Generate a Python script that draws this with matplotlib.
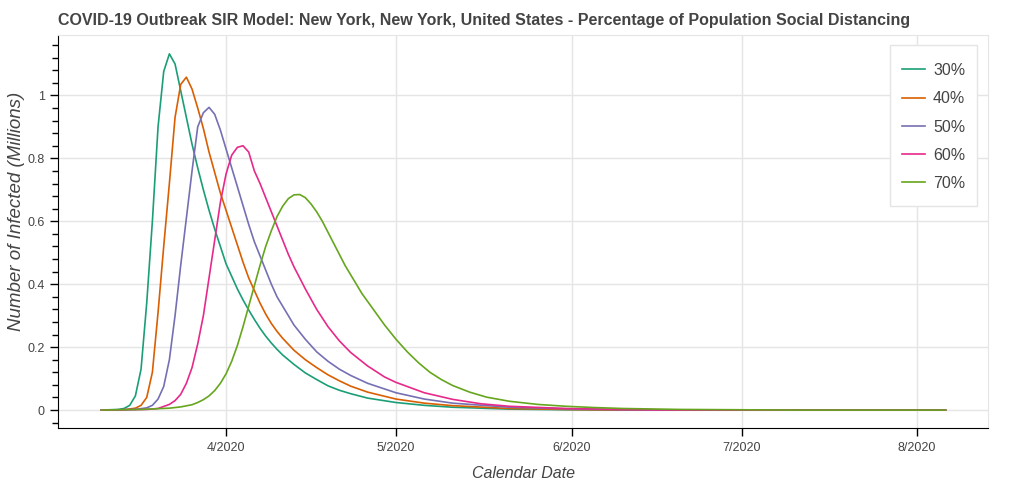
import numpy as np
import matplotlib.pyplot as plt
import matplotlib.dates as mdates
from matplotlib.patches import Rectangle
from matplotlib.ticker import MultipleLocator, FuncFormatter

plt.rcParams['font.family'] = ['Liberation Sans', 'DejaVu Sans']

title = ("COVID-19 Outbreak SIR Model: New York, New York, United States"
         " - Percentage of Population Social Distancing")
labels = ['30%', '40%', '50%', '60%', '70%']
colors = ['#1b9e77', '#d95f02', '#7570b3', '#e7298a', '#66a61e']

# days counted from 2020-04-01, infected in millions
days_30 = [-22, -19, -18, -17, -16, -15, -14, -13, -12, -11, -10, -9, -8, -7, -6, -5, -4,
           -3, -2, -1, 0, 1, 2, 3, 4, 5, 6, 7, 8, 9, 10, 12, 14, 16, 18, 20, 22, 25, 30,
           35, 40, 50, 60, 70, 127]
inf_30 = [0, 0.002, 0.005, 0.015, 0.045, 0.13, 0.34, 0.60, 0.90, 1.076, 1.132, 1.10, 1.015,
          0.93, 0.845, 0.77, 0.70, 0.635, 0.575, 0.52, 0.465, 0.425, 0.385, 0.35, 0.318,
          0.288, 0.26, 0.235, 0.213, 0.193, 0.175, 0.145, 0.118, 0.097, 0.077, 0.063, 0.052,
          0.038, 0.024, 0.015, 0.009, 0.003, 0.001, 0, 0]

days_40 = [-22, -18, -16, -15, -14, -13, -12, -11, -10, -9, -8, -7, -6, -5, -4, -3, -2, -1,
           0, 1, 2, 3, 4, 5, 6, 7, 8, 9, 10, 12, 14, 16, 18, 20, 22, 25, 30, 35, 40, 50, 60,
           70, 127]
inf_40 = [0, 0.001, 0.006, 0.015, 0.04, 0.12, 0.31, 0.52, 0.72, 0.93, 1.035, 1.058, 1.02,
          0.96, 0.895, 0.82, 0.755, 0.69, 0.635, 0.58, 0.525, 0.47, 0.42, 0.38, 0.34, 0.305,
          0.275, 0.25, 0.228, 0.19, 0.16, 0.135, 0.112, 0.093, 0.076, 0.057, 0.035, 0.022,
          0.014, 0.005, 0.002, 0, 0]

days_50 = [-22, -16, -14, -13, -12, -11, -10, -9, -8, -7, -6, -5, -4, -3, -2, -1, 0, 1, 2,
           3, 4, 5, 6, 7, 8, 9, 10, 12, 14, 16, 18, 20, 22, 25, 30, 35, 40, 50, 60, 70, 80,
           127]
inf_50 = [0, 0.002, 0.007, 0.015, 0.035, 0.075, 0.16, 0.30, 0.46, 0.61, 0.76, 0.90, 0.945,
          0.962, 0.94, 0.89, 0.83, 0.77, 0.71, 0.65, 0.59, 0.535, 0.49, 0.445, 0.40, 0.36,
          0.33, 0.27, 0.225, 0.185, 0.155, 0.13, 0.11, 0.085, 0.055, 0.035, 0.022, 0.009,
          0.004, 0.001, 0, 0]

days_60 = [-22, -14, -12, -10, -9, -8, -7, -6, -5, -4, -3, -2, -1, 0, 1, 2, 3, 4, 5, 6, 7,
           8, 9, 10, 11, 12, 13, 14, 16, 18, 20, 22, 25, 28, 30, 35, 40, 45, 50, 60, 70, 80,
           127]
inf_60 = [0, 0.002, 0.005, 0.018, 0.03, 0.05, 0.085, 0.135, 0.21, 0.30, 0.42, 0.54, 0.66,
          0.75, 0.81, 0.835, 0.84, 0.82, 0.76, 0.72, 0.675, 0.63, 0.585, 0.54, 0.495, 0.455,
          0.42, 0.385, 0.32, 0.265, 0.22, 0.183, 0.14, 0.105, 0.088, 0.055, 0.034, 0.02,
          0.012, 0.005, 0.002, 0, 0]

days_70 = [-22, -15, -10, -8, -6, -5, -4, -3, -2, -1, 0, 1, 2, 3, 4, 5, 6, 7, 8, 9, 10, 11,
           12, 13, 14, 15, 16, 17, 18, 19, 20, 21, 22, 23, 24, 25, 26, 28, 30, 32, 34, 36,
           38, 40, 43, 46, 50, 55, 60, 65, 70, 80, 90, 100, 127]
inf_70 = [0, 0.002, 0.006, 0.01, 0.017, 0.024, 0.033, 0.045, 0.062, 0.085, 0.115, 0.155,
          0.205, 0.265, 0.33, 0.395, 0.46, 0.52, 0.57, 0.615, 0.648, 0.672, 0.684, 0.685,
          0.675, 0.655, 0.63, 0.60, 0.565, 0.53, 0.495, 0.46, 0.43, 0.40, 0.37, 0.345, 0.32,
          0.27, 0.225, 0.185, 0.15, 0.12, 0.097, 0.078, 0.057, 0.041, 0.028, 0.018, 0.012,
          0.008, 0.005, 0.002, 0.001, 0, 0]

series = [(days_30, inf_30), (days_40, inf_40), (days_50, inf_50),
          (days_60, inf_60), (days_70, inf_70)]

base = np.datetime64('2020-04-01')

fig = plt.figure(figsize=(10.24, 4.82), dpi=100)
ax = fig.add_axes([58 / 1024, 1 - 428 / 482, 930 / 1024, 393 / 482])

for (d, v), lab, col in zip(series, labels, colors):
    x = base + np.array(d, dtype='timedelta64[D]')
    ax.plot(x, v, color=col, lw=1.2, label=lab)

x0 = mdates.date2num(base)
ax.set_xlim(x0 - 29.66, x0 + 134.5)
ax.set_ylim(-0.057, 1.192)

ax.xaxis.set_major_locator(mdates.MonthLocator())
ax.xaxis.set_major_formatter(FuncFormatter(
    lambda v, p: f"{mdates.num2date(v).month}/{mdates.num2date(v).year}"))
ax.yaxis.set_major_locator(MultipleLocator(0.2))
ax.yaxis.set_minor_locator(MultipleLocator(0.04))
ax.yaxis.set_major_formatter(FuncFormatter(lambda v, p: f"{v:g}"))

ax.grid(True, color='#e5e5e5', lw=1)
ax.set_axisbelow(True)
for s in ['top', 'right']:
    ax.spines[s].set_color('#e5e5e5')
for s in ['left', 'bottom']:
    ax.spines[s].set_color('black')
ax.tick_params(which='major', direction='out', length=6, width=1, colors='black',
               labelcolor='#444444', labelsize=9)
ax.tick_params(which='minor', direction='out', length=4, width=1, colors='black')
ax.tick_params(axis='x', pad=4)

ax.set_xlabel('Calendar Date', fontsize=11.5, style='italic', color='#444444', labelpad=9)
ax.set_ylabel('Number of Infected (Millions)', fontsize=13.5, style='italic',
              color='#444444')
ax.yaxis.set_label_coords(-0.036, 0.55)
fig.text(58 / 1024, 1 - 20 / 482, title, fontsize=11.5, fontweight='bold',
         color='#444444', va='center', ha='left')

# legend box like bokeh's, then the entries on top of it
fig.patches.append(Rectangle((890 / 1024, 1 - 206 / 482), 87 / 1024, 161 / 482,
                             transform=fig.transFigure, facecolor='white',
                             edgecolor='#e5e5e5', lw=1, zorder=4))
handles, labs = ax.get_legend_handles_labels()
leg = fig.legend(handles, labs, loc='upper left',
                 bbox_to_anchor=(902 / 1024, 1 - 63 / 482), borderaxespad=0,
                 fontsize=11.5, frameon=False, handlelength=1.44, handletextpad=0.5,
                 labelspacing=0.83, borderpad=0)
leg.set_zorder(5)
for t in leg.get_texts():
    t.set_color('#444444')

fig.savefig('out.png', dpi=100)
